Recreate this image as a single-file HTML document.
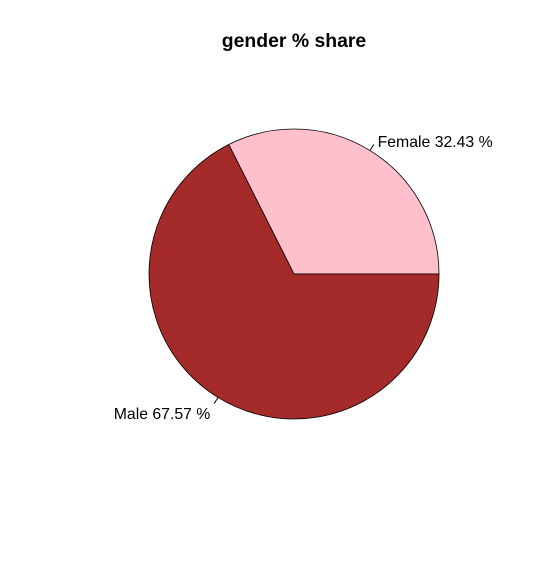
<!DOCTYPE html>
<html><head><meta charset="utf-8"><style>body{margin:0;background:#fff}svg{display:block}</style></head>
<body>
<svg id="chart" width="550" height="569" xmlns="http://www.w3.org/2000/svg" font-family="Liberation Sans, sans-serif">
<text x="294" y="47" text-anchor="middle" font-size="19.4" font-weight="bold">gender % share</text>
<g id="slices"></g>
</svg>
<script>
const categories = ["Female", "Male"];
const values = [32.43, 67.57];
const colors = ["#FFC0CB", "#A52A2A"];
const cx = 294, cy = 274, r = 145;
const g = document.getElementById('slices');
const ns = 'http://www.w3.org/2000/svg';
const total = values.reduce((a, b) => a + b, 0);
let a0 = 0;
function pt(a, rr) { return [cx + rr * Math.cos(a), cy - rr * Math.sin(a)]; }
values.forEach((v, i) => {
  const a1 = a0 + v / total * 2 * Math.PI;
  const p0 = pt(a0, r), p1 = pt(a1, r);
  const large = (a1 - a0) > Math.PI ? 1 : 0;
  const path = document.createElementNS(ns, 'path');
  path.setAttribute('d', `M${cx},${cy} L${p0[0]},${p0[1]} A${r},${r} 0 ${large} 0 ${p1[0]},${p1[1]} Z`);
  path.setAttribute('fill', colors[i]);
  path.setAttribute('stroke', '#000');
  path.setAttribute('stroke-width', '0.8');
  
  
  g.appendChild(path);
  const am = (a0 + a1) / 2;
  const l0 = pt(am, r), l1 = pt(am, r * 1.05), lt = pt(am, r * 1.1);
  const line = document.createElementNS(ns, 'line');
  line.setAttribute('x1', l0[0]); line.setAttribute('y1', l0[1]);
  line.setAttribute('x2', l1[0]); line.setAttribute('y2', l1[1]);
  line.setAttribute('stroke', '#000');
  
  
  g.appendChild(line);
  const t = document.createElementNS(ns, 'text');
  t.setAttribute('x', lt[0]);
  t.setAttribute('y', lt[1] + 9);
  t.setAttribute('font-size', '15.8');
  t.setAttribute('text-anchor', Math.cos(am) >= 0 ? 'start' : 'end');
  t.textContent = categories[i] + ' ' + v.toFixed(2) + ' %';
  
  
  g.appendChild(t);
  a0 = a1;
});
</script>
</body></html>
